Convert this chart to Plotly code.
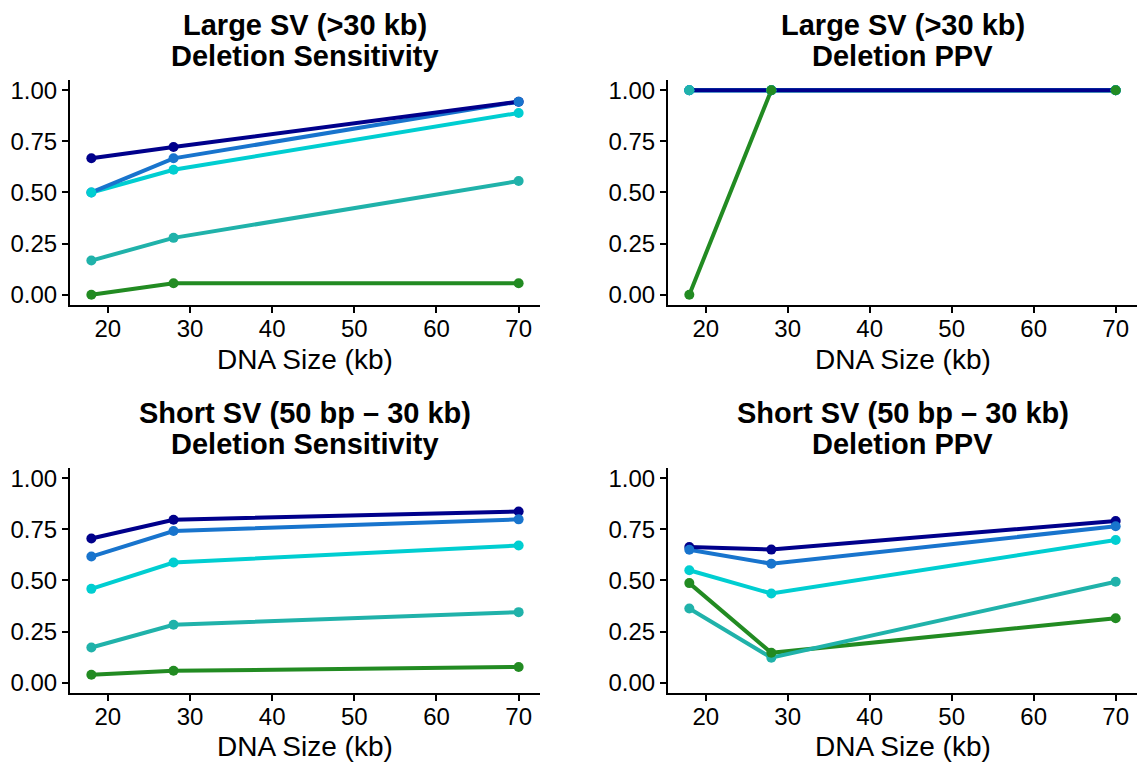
import plotly.graph_objects as go

# ---- data ----
dna_size = [18, 28, 70]
series_names = ["Series A", "Series B", "Series C", "Series D", "Series E"]
series_colors = ["#00008B", "#1874CD", "#00CED1", "#20B2AA", "#228B22"]

large_sens = {
    "Series A": [0.667, 0.722, 0.944],
    "Series B": [0.500, 0.667, 0.944],
    "Series C": [0.500, 0.611, 0.889],
    "Series D": [0.167, 0.278, 0.556],
    "Series E": [0.000, 0.056, 0.056],
}
large_ppv = {
    "Series A": [1.0, 1.0, 1.0],
    "Series B": [1.0, 1.0, 1.0],
    "Series C": [1.0, 1.0, 1.0],
    "Series D": [1.0, 1.0, 1.0],
    "Series E": [0.0, 1.0, 1.0],
}
short_sens = {
    "Series A": [0.705, 0.797, 0.837],
    "Series B": [0.617, 0.742, 0.799],
    "Series C": [0.459, 0.588, 0.671],
    "Series D": [0.172, 0.283, 0.345],
    "Series E": [0.039, 0.058, 0.077],
}
short_ppv = {
    "Series A": [0.664, 0.651, 0.791],
    "Series B": [0.650, 0.582, 0.765],
    "Series C": [0.550, 0.436, 0.698],
    "Series D": [0.363, 0.122, 0.494],
    "Series E": [0.487, 0.146, 0.315],
}

panel_titles = [
    ("Large SV (>30 kb)", "Deletion Sensitivity"),
    ("Large SV (>30 kb)", "Deletion PPV"),
    ("Short SV (50 bp \u2013 30 kb)", "Deletion Sensitivity"),
    ("Short SV (50 bp \u2013 30 kb)", "Deletion PPV"),
]
x_title = "DNA Size (kb)"
x_ticks = [20, 30, 40, 50, 60, 70]
y_ticks = [0.0, 0.25, 0.5, 0.75, 1.0]

# ---- layout geometry ----
W, H = 1139, 770
left_dom = [70 / W, 540 / W]
right_dom = [668 / W, 1137 / W]
top_dom = [1 - 304.3 / H, 1 - 77.6 / H]
bot_dom = [1 - 695.3 / H, 1 - 468.7 / H]

panels = [
    (large_sens, left_dom, top_dom, (22, 53), 359),
    (large_ppv, right_dom, top_dom, (22, 53), 359),
    (short_sens, left_dom, bot_dom, (413, 444), 749),
    (short_ppv, right_dom, bot_dom, (413, 444), 749),
]

fig = go.Figure()
FONT = "Liberation Sans, Arial, Helvetica, sans-serif"
layout = dict(
    width=W, height=H,
    margin=dict(l=0, r=0, t=0, b=0),
    plot_bgcolor="white", paper_bgcolor="white",
    showlegend=False,
    font=dict(family=FONT, color="black", size=24),
)
annotations = []

for i, (data, xd, yd, title_ys, xtitle_y) in enumerate(panels):
    n = i + 1
    xa = "x" if n == 1 else f"x{n}"
    ya = "y" if n == 1 else f"y{n}"
    # lines: draw navy last so it sits on top
    for name, col in reversed(list(zip(series_names, series_colors))):
        fig.add_trace(go.Scatter(
            x=dna_size, y=data[name], mode="lines", name=name,
            line=dict(color=col, width=4), xaxis=xa, yaxis=ya,
            hoverinfo="skip"))
    for name, col in zip(series_names, series_colors):
        fig.add_trace(go.Scatter(
            x=dna_size, y=data[name], mode="markers", name=name,
            marker=dict(color=col, size=10), xaxis=xa, yaxis=ya))

    axis_common = dict(
        showline=True, linecolor="black", linewidth=2,
        ticks="outside", ticklen=6, tickwidth=1.5, tickcolor="black",
        showgrid=False, zeroline=False,
        tickfont=dict(family=FONT, size=24, color="black"),
    )
    layout[f"xaxis{'' if n == 1 else n}"] = dict(
        domain=xd, range=[15.4, 72.6], tickvals=x_ticks,
        anchor=ya, ticklabelstandoff=-5, **axis_common)
    layout[f"yaxis{'' if n == 1 else n}"] = dict(
        domain=yd, range=[-0.05, 1.05], tickvals=y_ticks,
        tickformat=".2f", anchor=xa, **axis_common)

    cx = (xd[0] + xd[1]) / 2
    for line_text, ty in zip(panel_titles[i], title_ys):
        annotations.append(dict(
            text=f"<b>{line_text}</b>", x=cx, y=1 - ty / H,
            xref="paper", yref="paper", xanchor="center", yanchor="middle",
            showarrow=False, font=dict(family=FONT, size=29, color="black")))
    annotations.append(dict(
        text=x_title, x=cx, y=1 - xtitle_y / H,
        xref="paper", yref="paper", xanchor="center", yanchor="middle",
        showarrow=False, font=dict(family=FONT, size=28, color="black")))

layout["annotations"] = annotations
fig.update_layout(**layout)
fig.write_html("out.html")
